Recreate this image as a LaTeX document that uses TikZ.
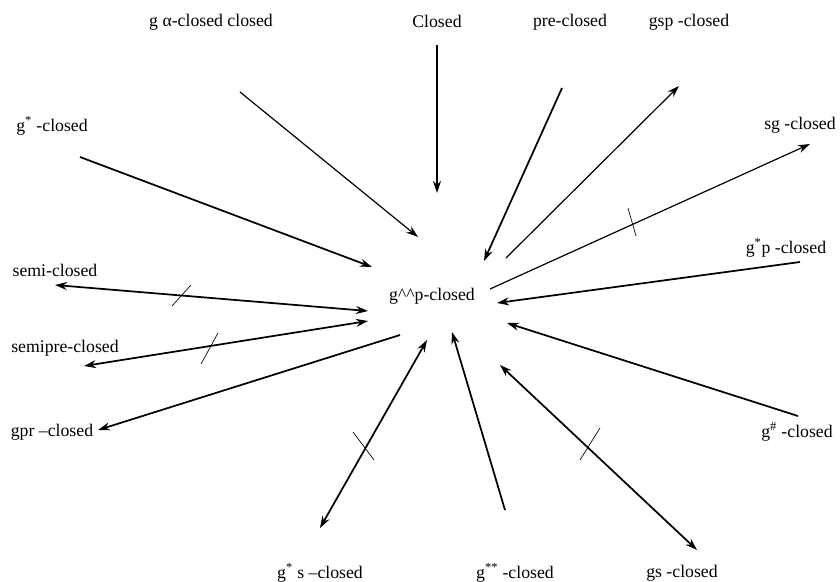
\documentclass[tikz,border=0pt]{standalone}
\usepackage{fontspec}
\setmainfont{Liberation Serif}
\usetikzlibrary{arrows.meta}
\begin{document}
\begin{tikzpicture}[x=0.75pt,y=-0.75pt,
  lbl/.style={inner sep=0pt,font=\fontsize{13.3}{15}\selectfont},
  arr/.style={line width=1.3pt,-{Stealth[length=9pt,width=6pt]}},
  arrthin/.style={line width=0.9pt,-{Stealth[length=9pt,width=6pt]}},
  darr/.style={line width=1.3pt,{Stealth[length=9pt,width=6pt]}-{Stealth[length=9pt,width=6pt]}},
  tick/.style={line width=0.5pt}]
\useasboundingbox (0,0) rectangle (840,582);
% labels
\node[lbl] (ga) at (211,22) {g α-closed closed};
\node[lbl] (cl) at (437,21) {Closed};
\node[lbl] (pre) at (570,22) {pre-closed};
\node[lbl] (gsp) at (689,22) {gsp -closed};
\node[lbl] (gs1) at (52,126) {g\textsuperscript{*} -closed};
\node[lbl] (sg) at (800,125) {sg -closed};
\node[lbl] (gsp2) at (786,248) {g\textsuperscript{*}p -closed};
\node[lbl] (c) at (432,296) {g\textasciicircum\textasciicircum p-closed};
\node[lbl] (semi) at (55,270) {semi-closed};
\node[lbl] (semipre) at (65,348) {semipre-closed};
\node[lbl] (gpr) at (52,432) {gpr –closed};
\node[lbl] (gp) at (797,432) {g\textsuperscript{\#} -closed};
\node[lbl] (gss) at (320,573) {g\textsuperscript{*} s –closed};
\node[lbl] (gss2) at (515,573) {g\textsuperscript{**} -closed};
\node[lbl] (gsc) at (682,573) {gs -closed};
% arrow end points
\coordinate (a1) at (240,92);  \coordinate (b1) at (418,237);
\coordinate (a2) at (437,45);  \coordinate (b2) at (437,193);
\coordinate (a3) at (562,88);  \coordinate (b3) at (484,261);
\coordinate (a4) at (506,258); \coordinate (b4) at (679,86);
\coordinate (a5) at (490,289); \coordinate (b5) at (810,144);
\coordinate (a6) at (800,262); \coordinate (b6) at (497,303);
\coordinate (a7) at (80,157);  \coordinate (b7) at (372,267);
\coordinate (a8) at (55,285);  \coordinate (b8) at (368,311);
\coordinate (a9) at (84,366);  \coordinate (b9) at (368,321);
\coordinate (a10) at (400,335); \coordinate (b10) at (98,430);
\coordinate (a11) at (320,528); \coordinate (b11) at (427,340);
\coordinate (a12) at (505,510); \coordinate (b12) at (452,332);
\coordinate (a13) at (500,365); \coordinate (b13) at (697,550);
\coordinate (a14) at (798,416); \coordinate (b14) at (507,323);
% arrows
\draw[arrthin] (a1) -- (b1);
\draw[arr] (a2) -- (b2);
\draw[arr] (a3) -- (b3);
\draw[arrthin] (a4) -- (b4);
\draw[arrthin] (a5) -- (b5);
\draw[arr] (a6) -- (b6);
\draw[arr] (a7) -- (b7);
\draw[darr] (a8) -- (b8);
\draw[darr] (a9) -- (b9);
\draw[arr] (a10) -- (b10);
\draw[darr] (a11) -- (b11);
\draw[arr] (a12) -- (b12);
\draw[darr] (a13) -- (b13);
\draw[arr] (a14) -- (b14);
% negation ticks
\coordinate (t1a) at (172,306); \coordinate (t1b) at (191,285);
\coordinate (t2a) at (201,364); \coordinate (t2b) at (218,333);
\coordinate (t3a) at (353,432); \coordinate (t3b) at (374,460);
\coordinate (t4a) at (628,208); \coordinate (t4b) at (636,236);
\coordinate (t5a) at (580,460); \coordinate (t5b) at (600,428);
\draw[tick] (t1a) -- (t1b);
\draw[tick] (t2a) -- (t2b);
\draw[tick] (t3a) -- (t3b);
\draw[tick] (t4a) -- (t4b);
\draw[tick] (t5a) -- (t5b);
\end{tikzpicture}
\end{document}
